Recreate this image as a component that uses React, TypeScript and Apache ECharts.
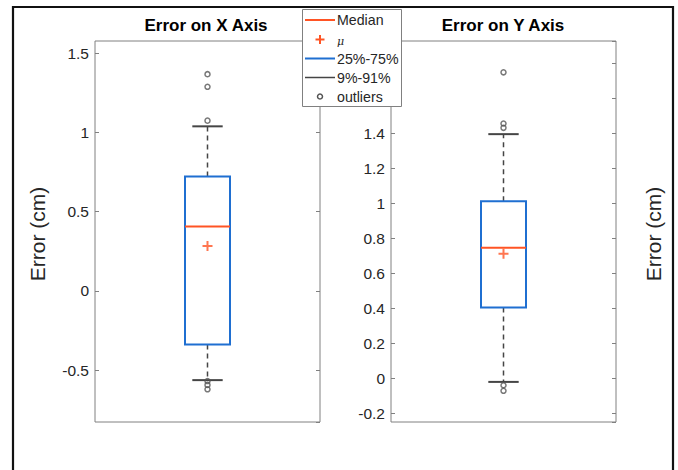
import React, { useEffect, useRef } from "react";
import * as echarts from "echarts";

// ---- data ----
const panelTitles = ["Error on X Axis", "Error on Y Axis"];
const yLabel = "Error (cm)";
// box statistics per panel: [9th pct, 25th pct, median, 75th pct, 91st pct]
const statsX = [-0.562, -0.337, 0.407, 0.721, 1.038];
const statsY = [-0.021, 0.404, 0.745, 1.011, 1.394];
const meanX = 0.283;
const meanY = 0.711;
const outliersX = [1.367, 1.287, 1.074, -0.568, -0.592, -0.62];
const outliersY = [1.747, 1.455, 1.43, -0.04, -0.072];
const yRangeX = [-0.826, 1.576];
const yRangeY = [-0.25, 1.926];
// tick labels above this value are hidden behind the legend in the reference
const hiddenLabelAbove = [Infinity, 1.5];
const legendLabels = ["Median", "μ", "25%-75%", "9%-91%", "outliers"];

const BOX_POS = 1;
const BOX_WIDTH = 0.4;
const CAP_WIDTH = 0.27;

const C_MED = "#FF5424";
const C_BOX = "#1F6FD1";
const C_WHISK = "#454545";
const C_OUT = "#555555";
const C_AXIS = "#808080";
const C_TEXT = "#262626";
const FONT = "'Liberation Sans', Arial, sans-serif";

export default function App() {
  const ref = useRef<HTMLDivElement>(null);
  useEffect(() => {
    if (!ref.current) return;
    const chart = echarts.init(ref.current, undefined, { renderer: "svg" });

    const grids = [
      { left: 95, top: 41, width: 225, height: 381 },
      { left: 391, top: 41, width: 225, height: 381 },
    ];
    const ranges = [yRangeX, yRangeY];
    const splits = [5, 10];

    const yAxes: any[] = [];
    ranges.forEach((r, gi) => {
      ["left", "right"].forEach((pos) => {
        yAxes.push({
          type: "value",
          gridIndex: gi,
          position: pos,
          min: r[0],
          max: r[1],
          splitNumber: splits[gi],
          axisLine: { show: false },
          splitLine: { show: false },
          axisTick: { show: true, inside: true, length: 4, lineStyle: { color: C_AXIS, width: 1 } },
          axisLabel: {
            show: pos === "left",
            margin: 6,
            color: C_TEXT,
            fontSize: 15.5,
            fontFamily: FONT,
            showMinLabel: false,
            showMaxLabel: false,
            formatter: (v: number) => (v > hiddenLabelAbove[gi] ? "" : String(v)),
          },
        });
      });
    });

    const boxRender = (params: any, api: any) => {
      const x = api.value(0);
      const lo = api.coord([x, api.value(1)]);
      const q1 = api.coord([x, api.value(2)]);
      const med = api.coord([x, api.value(3)]);
      const q3 = api.coord([x, api.value(4)]);
      const hi = api.coord([x, api.value(5)]);
      const hb = api.size([BOX_WIDTH, 0])[0] / 2;
      const hc = api.size([CAP_WIDTH, 0])[0] / 2;
      const dash = { stroke: C_WHISK, lineWidth: 1.5, lineDash: [5, 4] };
      const cap = { stroke: C_WHISK, lineWidth: 2 };
      return {
        type: "group",
        children: [
          { type: "line", shape: { x1: q3[0], y1: q3[1], x2: hi[0], y2: hi[1] }, style: dash },
          { type: "line", shape: { x1: q1[0], y1: q1[1], x2: lo[0], y2: lo[1] }, style: dash },
          { type: "line", shape: { x1: hi[0] - hc, y1: hi[1], x2: hi[0] + hc, y2: hi[1] }, style: cap },
          { type: "line", shape: { x1: lo[0] - hc, y1: lo[1], x2: lo[0] + hc, y2: lo[1] }, style: cap },
          {
            type: "rect",
            shape: { x: q3[0] - hb, y: q3[1], width: 2 * hb, height: q1[1] - q3[1] },
            style: { fill: "none", stroke: C_BOX, lineWidth: 2 },
          },
          {
            type: "line",
            shape: { x1: med[0] - hb, y1: med[1], x2: med[0] + hb, y2: med[1] },
            style: { stroke: C_MED, lineWidth: 2 },
          },
        ],
      };
    };

    const plusPath = "path://M0,4H10V6H0ZM4,0H6V10H4Z";
    const allStats = [statsX, statsY];
    const means = [meanX, meanY];
    const outs = [outliersX, outliersY];

    const series: any[] = [];
    [0, 1].forEach((gi) => {
      series.push({
        type: "custom",
        name: "box" + gi,
        xAxisIndex: gi,
        yAxisIndex: gi * 2,
        renderItem: boxRender,
        encode: { x: 0, y: [1, 2, 3, 4, 5] },
        data: [[BOX_POS, ...allStats[gi]]],
        z: 2,
      });
      series.push({
        type: "scatter",
        name: "mean" + gi,
        xAxisIndex: gi,
        yAxisIndex: gi * 2,
        symbol: plusPath,
        symbolSize: 10,
        itemStyle: { color: C_MED },
        data: [[BOX_POS, means[gi]]],
        z: 3,
      });
      series.push({
        type: "scatter",
        name: "outliers" + gi,
        xAxisIndex: gi,
        yAxisIndex: gi * 2,
        symbol: "circle",
        symbolSize: 5,
        itemStyle: { color: "transparent", borderColor: C_OUT, borderWidth: 1.5 },
        data: outs[gi].map((v) => [BOX_POS, v]),
        z: 3,
      });
    });

    const LZ = 100;
    const legendRows = [20, 39.5, 58.5, 77.5, 96.5];
    const lx1 = 305, lx2 = 335, lcx = 320, ltx = 337;
    const legendChildren: any[] = [
      { type: "rect", z: LZ, shape: { x: 302.5, y: 9.5, width: 99, height: 97 }, style: { fill: "#fff", stroke: C_AXIS, lineWidth: 1 } },
      { type: "line", z: LZ + 1, shape: { x1: lx1, y1: legendRows[0], x2: lx2, y2: legendRows[0] }, style: { stroke: C_MED, lineWidth: 2 } },
      { type: "line", z: LZ + 1, shape: { x1: lcx - 4.5, y1: legendRows[1], x2: lcx + 4.5, y2: legendRows[1] }, style: { stroke: C_MED, lineWidth: 2 } },
      { type: "line", z: LZ + 1, shape: { x1: lcx, y1: legendRows[1] - 4.5, x2: lcx, y2: legendRows[1] + 4.5 }, style: { stroke: C_MED, lineWidth: 2 } },
      { type: "line", z: LZ + 1, shape: { x1: lx1, y1: legendRows[2], x2: lx2, y2: legendRows[2] }, style: { stroke: C_BOX, lineWidth: 2 } },
      { type: "line", z: LZ + 1, shape: { x1: lx1, y1: legendRows[3], x2: lx2, y2: legendRows[3] }, style: { stroke: C_WHISK, lineWidth: 1.5 } },
      { type: "circle", z: LZ + 1, shape: { cx: lcx, cy: legendRows[4], r: 2.5 }, style: { fill: "none", stroke: C_OUT, lineWidth: 1.5 } },
    ];
    legendLabels.forEach((t, i) => {
      const isMu = i === 1;
      legendChildren.push({
        type: "text",
        z: LZ + 1,
        x: ltx,
        y: legendRows[i] + (isMu ? 1.5 : 0),
        style: {
          text: t,
          fill: C_TEXT,
          fontSize: isMu ? 11 : 14.2,
          fontStyle: isMu ? "italic" : "normal",
          fontFamily: isMu ? "'DejaVu Serif', serif" : FONT,
          textAlign: "left",
          textVerticalAlign: "middle",
        },
      });
    });

    const option: any = {
      animation: false,
      backgroundColor: "#ffffff",
      title: panelTitles.map((t, i) => ({
        text: t,
        left: i === 0 ? 206 : 503,
        top: 17,
        padding: 0,
        textAlign: "center",
        textStyle: { fontSize: 17, fontWeight: "bold", color: "#000", fontFamily: FONT },
      })),
      grid: grids.map((g) => ({ ...g, show: true, borderColor: C_AXIS, borderWidth: 1, backgroundColor: "#fff" })),
      xAxis: [0, 1].map((gi) => ({
        type: "value",
        gridIndex: gi,
        min: 0,
        max: 2,
        show: false,
      })),
      yAxis: yAxes,
      series,
      graphic: [
        {
          type: "rect",
          shape: { x: 13, y: 7, width: 660, height: 490 },
          style: { fill: "none", stroke: "#111", lineWidth: 2.2 },
          z: 50,
          silent: true,
        },
        {
          type: "text",
          x: 37,
          y: 234,
          rotation: Math.PI / 2,
          style: { text: yLabel, fontSize: 21, fill: C_TEXT, fontFamily: FONT, textAlign: "center", textVerticalAlign: "middle" },
        },
        {
          type: "text",
          x: 653,
          y: 234,
          rotation: Math.PI / 2,
          style: { text: yLabel, fontSize: 21, fill: C_TEXT, fontFamily: FONT, textAlign: "center", textVerticalAlign: "middle" },
        },
        { type: "group", z: LZ, children: legendChildren },
      ],
    };
    chart.setOption(option);
    return () => chart.dispose();
  }, []);
  return (
    <div
      ref={ref}
      style={{ position: "absolute", left: 0, top: 0, width: 678, height: 470, background: "#fff" }}
    />
  );
}
